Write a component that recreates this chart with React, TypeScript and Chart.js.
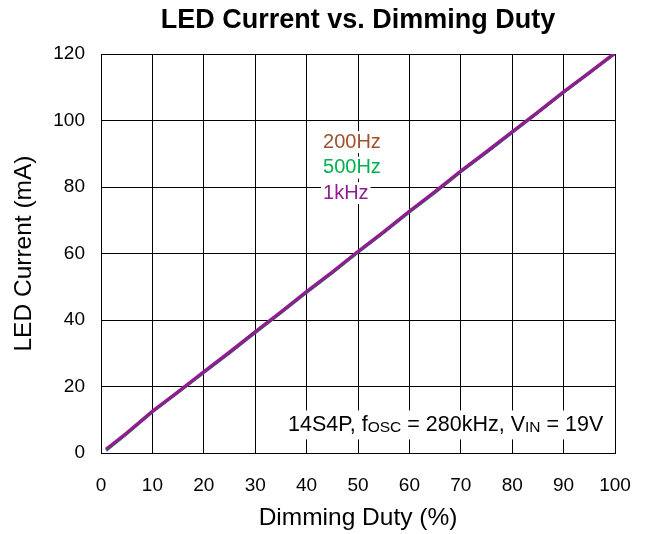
import React, { useEffect, useRef } from "react";
import { Chart, registerables } from "chart.js";

Chart.register(...registerables);

const duty = [1, 5, 10, 15, 20, 25, 30, 35, 40, 45, 50, 55, 60, 65, 70, 75, 80, 85, 90, 95, 100];
const i200 = [1.0, 5.9, 12.5, 18.4, 24.3, 30.2, 36.3, 42.3, 48.4, 54.3, 60.5, 66.4, 72.6, 78.5, 84.7, 90.5, 96.5, 102.4, 108.5, 114.3, 120.2];
const i500 = [0.7, 5.7, 12.3, 18.2, 24.1, 30.0, 36.1, 42.1, 48.2, 54.1, 60.3, 66.2, 72.4, 78.3, 84.5, 90.3, 96.3, 102.3, 108.4, 114.2, 120.1];
const i1k = [1.1, 6.0, 12.5, 18.4, 24.4, 30.3, 36.4, 42.4, 48.5, 54.4, 60.6, 66.5, 72.7, 78.6, 84.8, 90.6, 96.6, 102.5, 108.6, 114.4, 120.3];
const seriesNames = ["200Hz", "500Hz", "1kHz"];
const seriesColors = ["#A0502E", "#00B050", "#8E1E90"];
const xTicks = [0, 10, 20, 30, 40, 50, 60, 70, 80, 90, 100];
const yTicks = [0, 20, 40, 60, 80, 100, 120];

const FONT = "'Liberation Sans', Arial, sans-serif";

const textPlugin = {
  id: "texts",
  afterDraw(chart: any) {
    const { ctx, chartArea } = chart;
    const xs = chart.scales.x;
    const ys = chart.scales.y;
    ctx.save();
    // title
    ctx.fillStyle = "#000";
    ctx.font = `bold 27px ${FONT}`;
    ctx.textAlign = "center";
    ctx.textBaseline = "middle";
    ctx.fillText("LED Current vs. Dimming Duty", (chartArea.left + chartArea.right) / 2, 21);

    // legend text
    ctx.font = `20px ${FONT}`;
    ctx.textAlign = "left";
    const lx = xs.getPixelForValue(43.2);
    const ly0 = ys.getPixelForValue(93.5);
    seriesNames.forEach((n, k) => {
      const y = ly0 + k * 25.5;
      const w = ctx.measureText(n).width;
      ctx.fillStyle = "#fff";
      ctx.fillRect(lx - 2, y - 11, w + 4, 22);
      ctx.fillStyle = seriesColors[k];
      ctx.fillText(n, lx, y);
    });

    // annotation
    const parts: [string, boolean][] = [
      ["14S4P, f", false],
      ["OSC", true],
      [" = 280kHz, V", false],
      ["IN", true],
      [" = 19V", false],
    ];
    const bigF = `21.5px ${FONT}`;
    const smallF = `15.5px ${FONT}`;
    let total = 0;
    parts.forEach(([t, s]) => {
      ctx.font = s ? smallF : bigF;
      total += ctx.measureText(t).width;
    });
    const ax = 288;
    const ay = ys.getPixelForValue(8.6);
    ctx.fillStyle = "#fff";
    ctx.fillRect(ax - 6, ay - 14, total + 12, 29);
    ctx.fillStyle = "#000";
    ctx.textBaseline = "alphabetic";
    let cx = ax;
    parts.forEach(([t, s]) => {
      ctx.font = s ? smallF : bigF;
      ctx.fillText(t, cx, ay + 7 + (s ? 1 : 0));
      cx += ctx.measureText(t).width;
    });
    ctx.restore();
  },
};

export default function App() {
  const ref = useRef<HTMLCanvasElement>(null);
  useEffect(() => {
    document.body.style.margin = "0";
    const ds = [i200, i500, i1k].map((arr, k) => ({
      label: seriesNames[k],
      data: duty.map((d, j) => ({ x: d, y: arr[j] })),
      borderColor: seriesColors[k],
      backgroundColor: seriesColors[k],
      borderWidth: k === 2 ? 3.5 : 2.5,
      order: 2 - k,
      pointRadius: 0,
      tension: 0,
      fill: false,
    }));
    const chart = new Chart(ref.current as HTMLCanvasElement, {
      type: "line",
      data: { datasets: ds },
      options: {
        responsive: false,
        animation: false,
        layout: { padding: { left: 0, right: 33, top: 54, bottom: 0 } },
        plugins: { legend: { display: false }, title: { display: false }, tooltip: { enabled: false } },
        scales: {
          x: {
            type: "linear",
            min: 0,
            max: 100,
            afterBuildTicks: (s: any) => {
              s.ticks = xTicks.map((v) => ({ value: v }));
            },
            afterFit: (s: any) => {
              s.height = 81;
              s.paddingLeft = 0;
              s.paddingRight = 0;
            },
            grid: { color: "#000", lineWidth: 1, drawTicks: false },
            border: { color: "#000", width: 1 },
            ticks: { color: "#000", font: { family: FONT, size: 19 }, padding: 21, maxRotation: 0 },
            title: {
              display: true,
              text: "Dimming Duty (%)",
              color: "#000",
              font: { family: FONT, size: 24.5 },
              padding: { top: 0, bottom: 1 },
            },
          },
          y: {
            type: "linear",
            min: 0,
            max: 120,
            afterBuildTicks: (s: any) => {
              s.ticks = yTicks.map((v) => ({ value: v }));
            },
            afterFit: (s: any) => {
              s.width = 101;
              s.paddingTop = 0;
              s.paddingBottom = 0;
            },
            grid: { color: "#000", lineWidth: 1, drawTicks: false },
            border: { color: "#000", width: 1 },
            ticks: { color: "#000", font: { family: FONT, size: 19 }, padding: 16 },
            title: {
              display: true,
              text: "LED Current (mA)",
              color: "#000",
              font: { family: FONT, size: 24.5 },
              padding: { top: 10, bottom: 0 },
            },
          },
        },
      } as any,
      plugins: [textPlugin],
    });
    return () => chart.destroy();
  }, []);
  return (
    <div style={{ width: 648, height: 534, background: "#fff" }}>
      <canvas ref={ref} width={648} height={534} />
    </div>
  );
}
